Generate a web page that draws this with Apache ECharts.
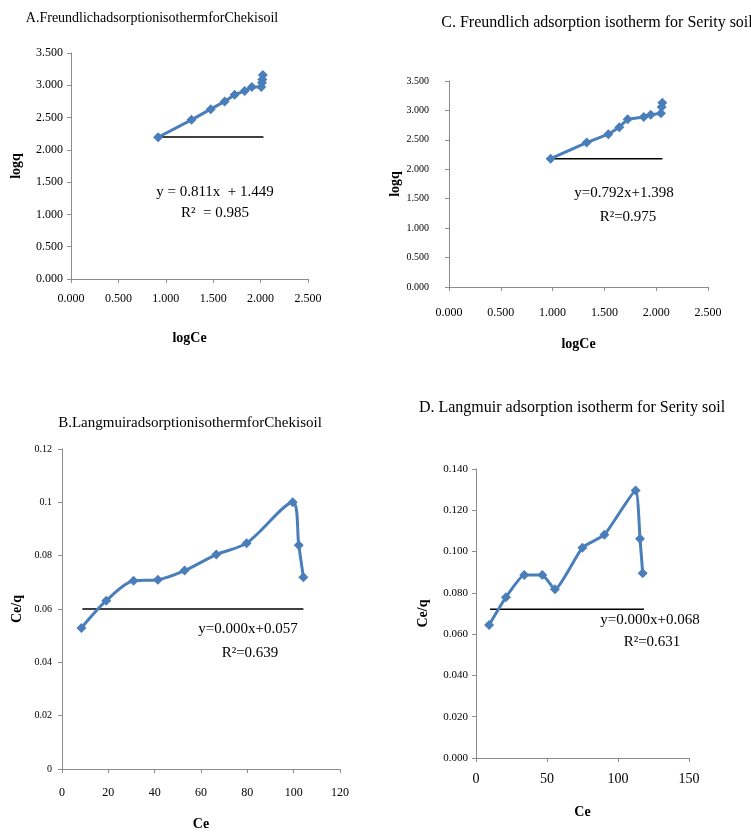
<!DOCTYPE html>
<html>
<head>
<meta charset="utf-8">
<script src="https://cdn.jsdelivr.net/npm/echarts@6/dist/echarts.min.js"></script>
<style>
html,body{margin:0;padding:0;background:#fff;}
#chart{width:751px;height:832px;}
</style>
</head>
<body>
<div id="chart"></div>
<script>
// ---- Data ----
// A. Freundlich, Cheki soil
const aLogCe = [0.919, 1.271, 1.474, 1.621, 1.726, 1.832, 1.908, 2.007, 2.015, 2.018, 2.024];
const aLogQ  = [2.195, 2.465, 2.630, 2.750, 2.855, 2.910, 2.975, 2.975, 3.040, 3.090, 3.160];
const aTrendX = [0.919, 2.030];
const aTrendY = [2.200, 2.200];
// C. Freundlich, Serity soil
const cLogCe = [0.981, 1.329, 1.538, 1.644, 1.725, 1.880, 1.947, 2.046, 2.053, 2.059];
const cLogQ  = [2.180, 2.454, 2.597, 2.716, 2.852, 2.890, 2.925, 2.950, 3.060, 3.130];
const cTrendX = [0.981, 2.060];
const cTrendY = [2.180, 2.180];
// B. Langmuir, Cheki soil
const bCe  = [8.4, 19.1, 30.9, 41.4, 52.9, 66.6, 79.7, 99.6, 102.2, 104.2];
const bCeQ = [0.0529, 0.0631, 0.0706, 0.0710, 0.0744, 0.0804, 0.0847, 0.1000, 0.0839, 0.0719];
const bTrendX = [8.8, 104.2];
const bTrendY = [0.060, 0.060];
// D. Langmuir, Serity soil
const dCe  = [9.2, 21.1, 34.0, 46.7, 55.6, 74.9, 90.4, 112.4, 115.5, 117.4];
const dCeQ = [0.0644, 0.0779, 0.0887, 0.0887, 0.0817, 0.1019, 0.1081, 0.1296, 0.1062, 0.0895];
const dTrendX = [9.9, 118.3];
const dTrendY = [0.072, 0.072];

const titles = [
  'A.FreundlichadsorptionisothermforChekisoil',
  'C. Freundlich adsorption isotherm for Serity soil',
  'B.LangmuiradsorptionisothermforChekisoil',
  'D. Langmuir adsorption isotherm for Serity soil'
];
const equations = [
  ['y = 0.811x  + 1.449', 'R\u00b2  = 0.985'],
  ['y=0.792x+1.398', 'R\u00b2=0.975'],
  ['y=0.000x+0.057', 'R\u00b2=0.639'],
  ['y=0.000x+0.068', 'R\u00b2=0.631']
];
const axisNames = [['logCe','logq'],['logCe','logq'],['Ce','Ce/q'],['Ce','Ce/q']];

const zip = (xs, ys) => xs.map((x, i) => [x, ys[i]]);
const SERIF = '"Liberation Serif", "Times New Roman", serif';
const BLUE = '#4a7ebb';
const AX = '#8c8c8c';

function xAxis(idx, min, max, interval, fmt, fs, margin, nameGap) {
  return {
    type: 'value', gridIndex: idx, min, max, interval,
    name: axisNames[idx][0], nameLocation: 'middle', nameGap,
    nameTextStyle: {fontFamily: SERIF, fontWeight: 'bold', fontSize: 14, color: '#000'},
    axisLine: {show: true, onZero: false, lineStyle: {color: AX, width: 1}},
    axisTick: {show: true, length: 4, lineStyle: {color: AX}},
    splitLine: {show: false},
    axisLabel: {fontFamily: SERIF, fontSize: fs, color: '#000', margin, formatter: fmt}
  };
}
function yAxis(idx, min, max, interval, fmt, fs, margin, nameGap) {
  return {
    type: 'value', gridIndex: idx, min, max, interval,
    name: axisNames[idx][1], nameLocation: 'middle', nameGap, nameRotate: 90,
    nameTextStyle: {fontFamily: SERIF, fontWeight: 'bold', fontSize: 14, color: '#000'},
    axisLine: {show: true, onZero: false, lineStyle: {color: AX, width: 1}},
    axisTick: {show: true, length: 4, lineStyle: {color: AX}},
    splitLine: {show: false},
    axisLabel: {fontFamily: SERIF, fontSize: fs, color: '#000', margin, formatter: fmt}
  };
}
const f3 = v => v.toFixed(3);

function dataSeries(idx, data, smooth) {
  return {
    type: 'line', xAxisIndex: idx, yAxisIndex: idx, data, smooth,
    symbol: 'diamond', symbolSize: 10, showSymbol: true,
    lineStyle: {color: BLUE, width: 3},
    itemStyle: {color: BLUE},
    z: 3, animation: false
  };
}
function trendSeries(idx, data) {
  return {
    type: 'line', xAxisIndex: idx, yAxisIndex: idx, data,
    symbol: 'none', lineStyle: {color: '#000', width: 1.5}, z: 2, animation: false
  };
}
function txt(text, x, y, size) {
  return {type: 'text', style: {text, x, y, align: 'center', verticalAlign: 'middle',
    font: size + 'px ' + SERIF, fill: '#000'}};
}

const option = {
  backgroundColor: '#fff',
  animation: false,
  grid: [
    {left: 71, top: 53, width: 237, height: 226},
    {left: 449, top: 81, width: 259, height: 206},
    {left: 62, top: 449, width: 278, height: 320},
    {left: 476, top: 469, width: 213, height: 289}
  ],
  xAxis: [
    xAxis(0, 0, 2.5, 0.5, f3, 12, 14, 52),
    xAxis(1, 0, 2.5, 0.5, f3, 12, 20, 50),
    xAxis(2, 0, 120, 20, null, 12, 18, 48),
    xAxis(3, 0, 150, 50, null, 14, 14, 47)
  ],
  yAxis: [
    yAxis(0, 0, 3.5, 0.5, f3, 12, 8, 48),
    yAxis(1, 0, 3.5, 0.5, f3, 10, 20, 44),
    yAxis(2, 0, 0.12, 0.02, null, 10, 10, 38),
    yAxis(3, 0, 0.14, 0.02, f3, 11, 8, 46)
  ],
  series: [
    dataSeries(0, zip(aLogCe, aLogQ), false),
    trendSeries(0, zip(aTrendX, aTrendY)),
    dataSeries(1, zip(cLogCe, cLogQ), false),
    trendSeries(1, zip(cTrendX, cTrendY)),
    dataSeries(2, zip(bCe, bCeQ), 0.3),
    trendSeries(2, zip(bTrendX, bTrendY)),
    dataSeries(3, zip(dCe, dCeQ), 0.15),
    trendSeries(3, zip(dTrendX, dTrendY))
  ],
  graphic: [
    txt(titles[0], 152, 18, 14),
    txt(titles[1], 597, 23, 16),
    txt(titles[2], 190, 423, 15),
    txt(titles[3], 572, 408, 16),
    txt(equations[0][0], 215, 192, 15),
    txt(equations[0][1], 215, 213, 15),
    txt(equations[1][0], 624, 193, 15),
    txt(equations[1][1], 628, 217, 15),
    txt(equations[2][0], 248, 629, 15),
    txt(equations[2][1], 250, 653, 15),
    txt(equations[3][0], 650, 620, 15),
    txt(equations[3][1], 652, 642, 15)
  ]
};

const chart = echarts.init(document.getElementById('chart'), null, {renderer: 'canvas'});
chart.setOption(option);
</script>
</body>
</html>
